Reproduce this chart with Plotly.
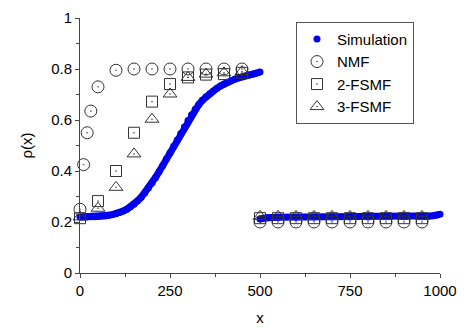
import plotly.graph_objects as go

# Simulation
sim_x_left = list(range(0, 501, 10))
sim_y_left = [0.220, 0.220, 0.220, 0.221, 0.221, 0.222, 0.223, 0.224, 0.226, 0.229,
              0.232, 0.237, 0.243, 0.250, 0.259, 0.270, 0.283, 0.297, 0.314, 0.333,
              0.353, 0.375, 0.398, 0.422, 0.447, 0.472, 0.497, 0.522, 0.547, 0.573,
              0.598, 0.621, 0.642, 0.661, 0.677, 0.691, 0.703, 0.714, 0.724, 0.733,
              0.741, 0.748, 0.754, 0.760, 0.765, 0.769, 0.773, 0.776, 0.779, 0.783,
              0.788]
sim_x_right = [500, 510, 520, 550, 600, 650, 700, 750, 800, 850, 900, 950, 960, 970, 980, 990, 1000]
sim_y_right = [0.212, 0.215, 0.217, 0.219, 0.219, 0.220, 0.220, 0.220, 0.220, 0.221, 0.221,
               0.221, 0.222, 0.223, 0.225, 0.227, 0.230]

# NMF
nmf_x = [0, 10, 20, 30, 50, 100, 150, 200, 250, 300, 350, 400, 450,
         500, 550, 600, 650, 700, 750, 800, 850, 900, 950]
nmf_y = [0.25, 0.425, 0.55, 0.635, 0.73, 0.795, 0.80, 0.80, 0.80, 0.80, 0.80, 0.80, 0.80,
         0.20, 0.20, 0.20, 0.20, 0.20, 0.20, 0.20, 0.20, 0.20, 0.20]

# 2-FSMF
fs2_x = [0, 50, 100, 150, 200, 250, 300, 350, 400, 450,
         500, 550, 600, 650, 700, 750, 800, 850, 900, 950]
fs2_y = [0.215, 0.282, 0.40, 0.55, 0.672, 0.741, 0.767, 0.778, 0.780, 0.785,
         0.215, 0.215, 0.215, 0.215, 0.215, 0.215, 0.215, 0.215, 0.215, 0.215]

# 3-FSMF
fs3_x = [0, 50, 100, 150, 200, 250, 300, 350, 400, 450,
         500, 550, 600, 650, 700, 750, 800, 850, 900, 950]
fs3_y = [0.22, 0.254, 0.336, 0.467, 0.603, 0.702, 0.767, 0.780, 0.785, 0.790,
         0.222, 0.222, 0.222, 0.222, 0.222, 0.222, 0.222, 0.222, 0.222, 0.222]

x_ticks = [0, 250, 500, 750, 1000]
y_ticks = [0, 0.2, 0.4, 0.6, 0.8, 1]

BLUE = "#0000ee"
FONT = "Liberation Sans, Arial, sans-serif"
MK = "#333333"

fig = go.Figure()
for xs, ys in [(sim_x_left, sim_y_left), (sim_x_right, sim_y_right)]:
    fig.add_trace(go.Scatter(x=xs, y=ys, mode="lines+markers", showlegend=False,
                             line=dict(color=BLUE, width=7),
                             marker=dict(color=BLUE, size=7), cliponaxis=False))
fig.add_trace(go.Scatter(x=[None], y=[None], mode="markers", name="Simulation",
                         marker=dict(color=BLUE, size=7)))
fig.add_trace(go.Scatter(x=nmf_x, y=nmf_y, mode="markers", name="NMF", cliponaxis=False,
                         marker=dict(symbol="circle-open-dot", size=12, color=MK,
                                     line=dict(width=1, color=MK))))
fig.add_trace(go.Scatter(x=fs2_x, y=fs2_y, mode="markers", name="2-FSMF", cliponaxis=False,
                         marker=dict(symbol="square-open-dot", size=11, color=MK,
                                     line=dict(width=1, color=MK))))
fig.add_trace(go.Scatter(x=fs3_x, y=fs3_y, mode="markers", name="3-FSMF", cliponaxis=False,
                         marker=dict(symbol="triangle-up-open-dot", size=12, color=MK,
                                     line=dict(width=1, color=MK))))

axis_common = dict(showgrid=False, zeroline=False, showline=True, linecolor="#444",
                   linewidth=1, ticks="outside", ticklen=4, tickcolor="#444",
                   automargin=False,
                   tickfont=dict(family=FONT, size=15, color="black"))
fig.update_layout(
    width=469, height=328,
    margin=dict(l=72, r=37, t=10, b=63),
    paper_bgcolor="white", plot_bgcolor="white",
    font=dict(family=FONT, size=15, color="black"),
    xaxis=dict(range=[0, 1000], tickvals=x_ticks, ticktext=[str(v) for v in x_ticks],
               minor=dict(ticks="outside", dtick=125, ticklen=3, tickcolor="#444"),
               title=dict(text="x", font=dict(family=FONT, size=15), standoff=14),
               **axis_common),
    yaxis=dict(range=[0, 1], tickvals=y_ticks, ticktext=["0", "0.2", "0.4", "0.6", "0.8", "1"],
               minor=dict(ticks="outside", dtick=0.1, ticklen=3, tickcolor="#444"),
               title=dict(text="ρ(x)", font=dict(family=FONT, size=15), standoff=14),
               **axis_common),
    legend=dict(x=0.6, y=0.985, xanchor="left", yanchor="top",
                bgcolor="white", bordercolor="#555", borderwidth=1,
                font=dict(family=FONT, size=15), itemwidth=30,
                tracegroupgap=0),
)
fig.write_html("out.html")
